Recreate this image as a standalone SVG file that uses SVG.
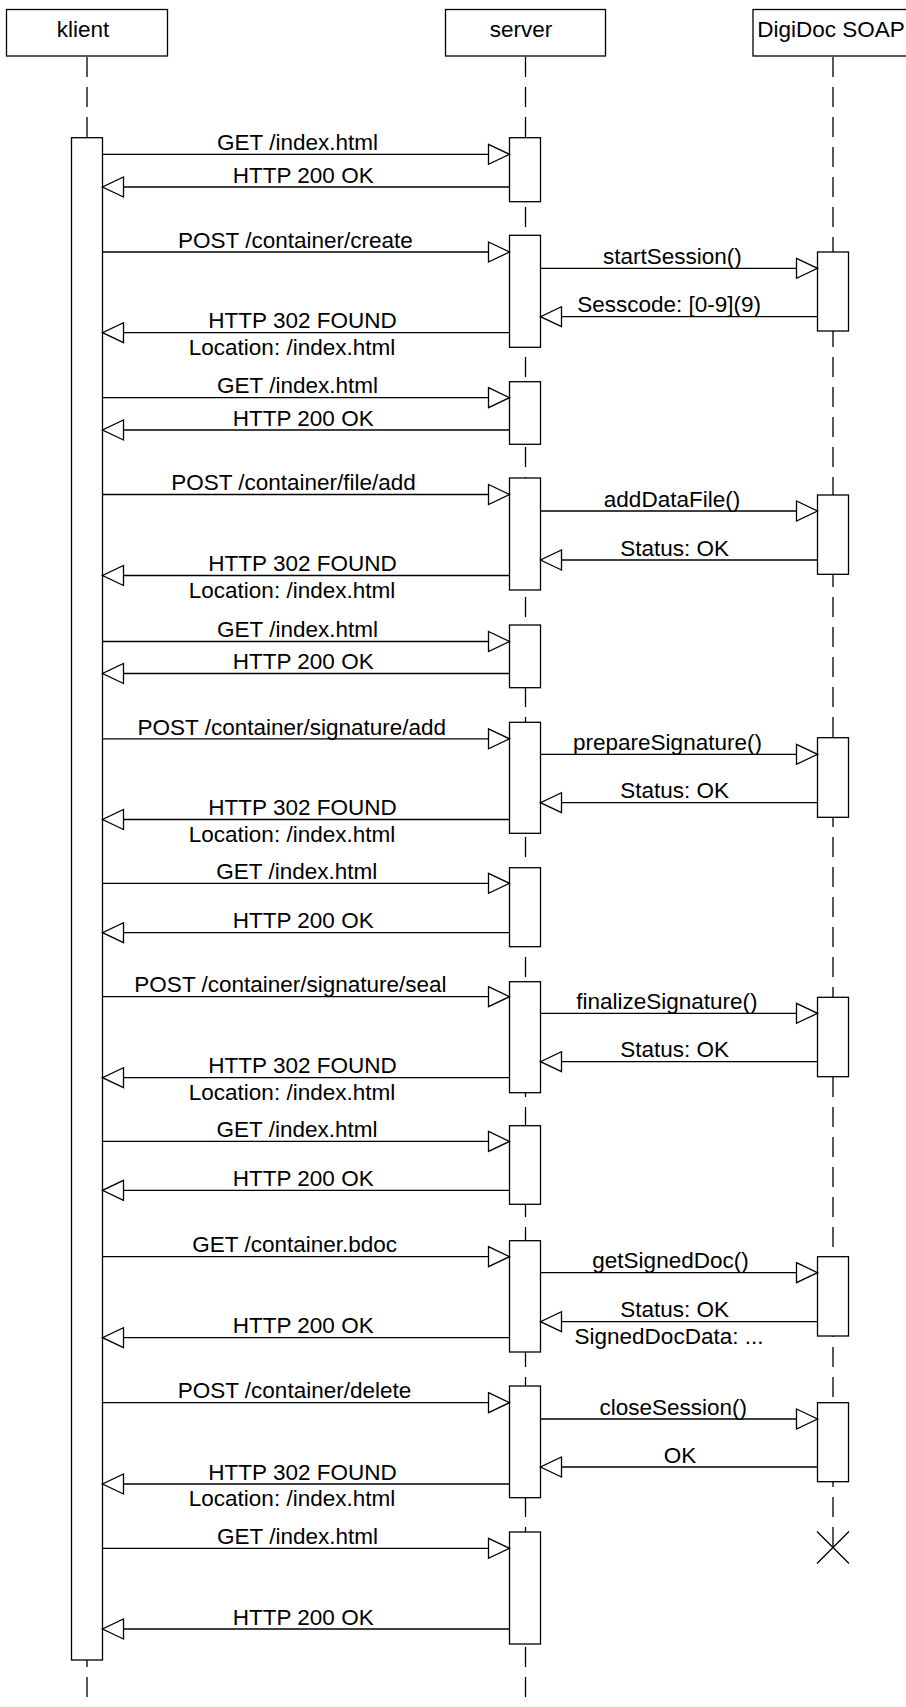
<svg xmlns="http://www.w3.org/2000/svg" width="906" height="1707" viewBox="0 0 906 1707">
<style>
.box{fill:#fff;stroke:#000;stroke-width:1.3}
.act{fill:#fff;stroke:#000;stroke-width:1.3}
.life{fill:none;stroke:#000;stroke-width:1.3;stroke-dasharray:20 10}
.msg{fill:none;stroke:#000;stroke-width:1.3;marker-end:url(#open)}
text{font-family:"Liberation Sans",Arial,sans-serif;font-size:22.5px;fill:#000;text-anchor:middle}
</style>
<defs>
<marker id="open" viewBox="0 0 21 20" refX="21" refY="10" markerWidth="21" markerHeight="20" markerUnits="userSpaceOnUse" orient="auto" overflow="visible">
<path d="M0,0 L21,10 L0,20 Z" fill="#fff" stroke="#000" stroke-width="1.3"/>
</marker>
</defs>
<rect width="906" height="1707" fill="#fff"/>
<g id="lifelines">
<line class="life" x1="87" y1="57" x2="87" y2="1707"/>
<line class="life" x1="525.5" y1="57" x2="525.5" y2="1707"/>
<line class="life" x1="833" y1="57" x2="833" y2="1547.5"/>
</g>
<g id="klient">
<rect class="box" x="6.5" y="9.5" width="161" height="46.5"/>
<text x="83" y="37.3">klient</text>
<rect class="act" x="71.5" y="137.7" width="31" height="1522.3"/>
</g>
<g id="server">
<rect class="box" x="445.5" y="9.5" width="160" height="46.5"/>
<text x="521" y="37.3">server</text>
<rect class="act" x="509.5" y="137.7" width="31" height="64"/>
<rect class="act" x="509.5" y="235.3" width="31" height="112"/>
<rect class="act" x="509.5" y="381.7" width="31" height="62.6"/>
<rect class="act" x="509.5" y="478" width="31" height="112"/>
<rect class="act" x="509.5" y="625" width="31" height="62.7"/>
<rect class="act" x="509.5" y="722.3" width="31" height="111"/>
<rect class="act" x="509.5" y="867.7" width="31" height="79"/>
<rect class="act" x="509.5" y="981.7" width="31" height="111"/>
<rect class="act" x="509.5" y="1125.7" width="31" height="78.6"/>
<rect class="act" x="509.5" y="1240.7" width="31" height="111.3"/>
<rect class="act" x="509.5" y="1386" width="31" height="111.7"/>
<rect class="act" x="509.5" y="1532" width="31" height="112"/>
</g>
<g id="digidoc">
<rect class="box" x="753" y="9.5" width="160" height="46.5"/>
<text x="831" y="37.3">DigiDoc SOAP</text>
<rect class="act" x="817.5" y="252" width="31" height="79"/>
<rect class="act" x="817.5" y="495" width="31" height="79.3"/>
<rect class="act" x="817.5" y="737.7" width="31" height="79.6"/>
<rect class="act" x="817.5" y="997.3" width="31" height="79.4"/>
<rect class="act" x="817.5" y="1256.7" width="31" height="79.3"/>
<rect class="act" x="817.5" y="1402.7" width="31" height="79"/>
<path d="M817,1531.5 L849,1563.5 M849,1531.5 L817,1563.5" fill="none" stroke="#000" stroke-width="1.3"/>
</g>
<g id="connectors">
<path class="msg" d="M102.5,154.3 H509.5"/>
<path class="msg" d="M509.5,187 H102.5"/>
<path class="msg" d="M102.5,252 H509.5"/>
<path class="msg" d="M540.5,268.3 H817.5"/>
<path class="msg" d="M817.5,316.7 H540.5"/>
<path class="msg" d="M509.5,332.7 H102.5"/>
<path class="msg" d="M102.5,397.7 H509.5"/>
<path class="msg" d="M509.5,430 H102.5"/>
<path class="msg" d="M102.5,494.5 H509.5"/>
<path class="msg" d="M540.5,511 H817.5"/>
<path class="msg" d="M817.5,560 H540.5"/>
<path class="msg" d="M509.5,575.5 H102.5"/>
<path class="msg" d="M102.5,641.5 H509.5"/>
<path class="msg" d="M509.5,673.5 H102.5"/>
<path class="msg" d="M102.5,738.8 H509.5"/>
<path class="msg" d="M540.5,754.3 H817.5"/>
<path class="msg" d="M817.5,802.7 H540.5"/>
<path class="msg" d="M509.5,819.5 H102.5"/>
<path class="msg" d="M102.5,883.3 H509.5"/>
<path class="msg" d="M509.5,932.7 H102.5"/>
<path class="msg" d="M102.5,996.7 H509.5"/>
<path class="msg" d="M540.5,1013.3 H817.5"/>
<path class="msg" d="M817.5,1061.7 H540.5"/>
<path class="msg" d="M509.5,1077.7 H102.5"/>
<path class="msg" d="M102.5,1141.4 H509.5"/>
<path class="msg" d="M509.5,1190.3 H102.5"/>
<path class="msg" d="M102.5,1256.7 H509.5"/>
<path class="msg" d="M540.5,1272.7 H817.5"/>
<path class="msg" d="M817.5,1321.7 H540.5"/>
<path class="msg" d="M509.5,1337.7 H102.5"/>
<path class="msg" d="M102.5,1402.7 H509.5"/>
<path class="msg" d="M540.5,1419 H817.5"/>
<path class="msg" d="M817.5,1467 H540.5"/>
<path class="msg" d="M509.5,1484 H102.5"/>
<path class="msg" d="M102.5,1548.3 H509.5"/>
<path class="msg" d="M509.5,1629 H102.5"/>
</g>
<g id="labels">
<text x="297.5" y="150">GET /index.html</text>
<text x="303.2" y="182.7">HTTP 200 OK</text>
<text x="295.4" y="247.7">POST /container/create</text>
<text x="672.4" y="264">startSession()</text>
<text x="669.2" y="312.4">Sesscode: [0-9](9)</text>
<text x="302.5" y="328.4">HTTP 302 FOUND</text>
<text x="292" y="355">Location: /index.html</text>
<text x="297.5" y="393.4">GET /index.html</text>
<text x="303.2" y="425.7">HTTP 200 OK</text>
<text x="293.5" y="490.2">POST /container/file/add</text>
<text x="672" y="506.5">addDataFile()</text>
<text x="674.7" y="555.7">Status: OK</text>
<text x="302.5" y="571.2">HTTP 302 FOUND</text>
<text x="292" y="597.8">Location: /index.html</text>
<text x="297.5" y="637.2">GET /index.html</text>
<text x="303.2" y="669.2">HTTP 200 OK</text>
<text x="291.8" y="734.5">POST /container/signature/add</text>
<text x="667.5" y="750">prepareSignature()</text>
<text x="674.7" y="798.4">Status: OK</text>
<text x="302.5" y="815.2">HTTP 302 FOUND</text>
<text x="292" y="841.8">Location: /index.html</text>
<text x="296.8" y="879">GET /index.html</text>
<text x="303.2" y="928.4">HTTP 200 OK</text>
<text x="290.5" y="992.4">POST /container/signature/seal</text>
<text x="666.8" y="1009">finalizeSignature()</text>
<text x="674.7" y="1057.4">Status: OK</text>
<text x="302.5" y="1073.4">HTTP 302 FOUND</text>
<text x="292" y="1100">Location: /index.html</text>
<text x="297" y="1137.1">GET /index.html</text>
<text x="303.2" y="1186">HTTP 200 OK</text>
<text x="294.7" y="1252.4">GET /container.bdoc</text>
<text x="670.5" y="1268.4">getSignedDoc()</text>
<text x="674.7" y="1317.4">Status: OK</text>
<text x="669" y="1343.6">SignedDocData: ...</text>
<text x="303.2" y="1333.4">HTTP 200 OK</text>
<text x="294.5" y="1398.4">POST /container/delete</text>
<text x="673.2" y="1414.7">closeSession()</text>
<text x="680" y="1462.7">OK</text>
<text x="302.5" y="1479.7">HTTP 302 FOUND</text>
<text x="292" y="1506.3">Location: /index.html</text>
<text x="297.5" y="1544">GET /index.html</text>
<text x="303.2" y="1624.7">HTTP 200 OK</text>
</g>
</svg>
